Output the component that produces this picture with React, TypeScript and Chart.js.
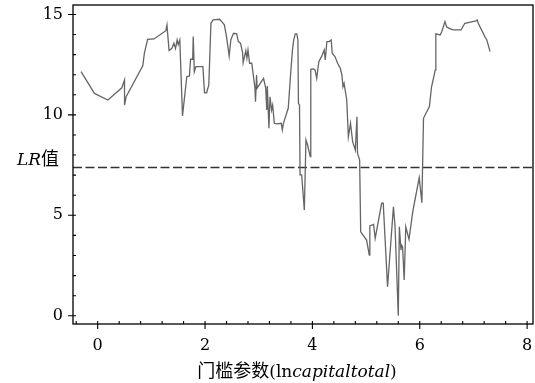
import React, { useEffect, useRef } from "react";
import { Chart, registerables } from "chart.js";

Chart.register(...registerables);

const lrX = [
  -0.31, -0.06, 0.19, 0.45, 0.5, 0.5, 0.53, 0.84, 0.87, 0.93, 1.05, 1.27, 1.29, 1.33, 1.38, 1.42, 1.45, 1.48, 1.5, 1.53,
  1.58, 1.66, 1.71, 1.73, 1.77, 1.78, 1.8, 1.83, 1.96, 1.99, 2.03, 2.07, 2.11, 2.15, 2.27, 2.31, 2.36, 2.4, 2.45, 2.48,
  2.53, 2.59, 2.62, 2.66, 2.7, 2.71, 2.76, 2.78, 2.8, 2.83, 2.87, 2.93, 2.94, 2.96, 2.97, 3.09, 3.13, 3.15, 3.16, 3.19,
  3.21, 3.24, 3.26, 3.29, 3.34, 3.42, 3.44, 3.46, 3.52, 3.55, 3.6, 3.63, 3.65, 3.68, 3.71, 3.73, 3.74, 3.76, 3.77, 3.8,
  3.85, 3.88, 3.91, 3.96, 3.97, 4.02, 4.05, 4.08, 4.12, 4.17, 4.22, 4.24, 4.27, 4.31, 4.35, 4.37, 4.42, 4.47, 4.52, 4.55,
  4.57, 4.59, 4.61, 4.64, 4.67, 4.71, 4.75, 4.8, 4.83, 4.84, 4.88, 4.9, 5.01, 5.06, 5.07, 5.14, 5.17, 5.29, 5.32, 5.4,
  5.51, 5.54, 5.6, 5.62, 5.65, 5.66, 5.68, 5.71, 5.74, 5.8, 5.87, 5.99, 6.04, 6.07, 6.1, 6.18, 6.22, 6.29, 6.3, 6.38,
  6.41, 6.47, 6.5, 6.55, 6.62, 6.77, 6.84, 7.05, 7.07, 7.09, 7.22, 7.25, 7.31,
];
const lrY = [
  12.15, 11.07, 10.74, 11.35, 11.74, 10.49, 10.9, 12.44, 13.07, 13.76, 13.78, 14.19, 14.48, 13.2, 13.3, 13.57, 13.3, 13.73, 13.5, 13.73,
  9.95, 11.9, 11.94, 12.77, 12.77, 13.9, 12.15, 12.4, 12.4, 11.1, 11.1, 11.49, 14.56, 14.73, 14.76, 14.64, 14.48, 13.9, 12.93, 13.73,
  14.06, 14.03, 13.65, 13.57, 13.1, 12.6, 13.2, 12.82, 13.23, 12.57, 12.57, 11.33, 10.66, 11.99, 11.33, 11.82, 11.33, 10.24, 11.44, 9.33,
  10.9, 10.24, 10.49, 9.58, 9.55, 9.58, 9.25, 9.58, 10.08, 10.33, 12.24, 13.27, 13.7, 14.03, 14.03, 13.73, 10.58, 10.49, 7.01, 7.01,
  5.26, 8.75, 8.5, 7.92, 12.27, 12.29, 12.24, 11.82, 12.65, 12.9, 13.23, 12.73, 13.65, 13.65, 13.73, 13.07, 12.9, 12.57, 12.32, 11.99,
  11.4, 11.57, 11.24, 10.74, 8.91, 9.58, 8.67, 8.25, 9.91, 8.09, 7.75, 4.18, 3.77, 3.02, 4.47, 4.55, 3.85, 5.6, 5.6, 1.44,
  5.43, 4.43, 0.0, 4.43, 3.27, 3.52, 3.44, 1.78, 4.43, 3.8, 5.18, 6.87, 5.63, 9.83, 9.99, 10.41, 11.4, 12.24, 14.03, 13.98,
  14.14, 14.64, 14.39, 14.31, 14.23, 14.23, 14.56, 14.68, 14.73, 14.56, 13.86, 13.73, 13.15,
];
const thresholdLR = 7.38;
const xTickValues = [0, 2, 4, 6, 8];
const yTickValues = [0, 5, 10, 15];
const xMinorStep = 0.4;
const yMinorStep = 1;
const xRange = [-0.46, 8.11];
const yRange = [-0.41, 15.47];

const SERIF = "'DejaVu Serif', 'Liberation Serif', serif";
const CJK = "'Noto Sans CJK SC', sans-serif";

const framePlugin = {
  id: "frameTicks",
  afterDraw(chart: any) {
    const ctx = chart.ctx;
    const { left, right, top, bottom } = chart.chartArea;
    const xs = chart.scales.x;
    const ys = chart.scales.y;
    ctx.save();
    ctx.strokeStyle = "#000";
    ctx.lineWidth = 1.3;
    ctx.strokeRect(left, top, right - left, bottom - top);
    ctx.lineWidth = 1.1;
    ctx.beginPath();
    for (let v = -0.4; v <= 8.05; v += xMinorStep) {
      const r = Math.round(v * 10) / 10;
      const px = xs.getPixelForValue(r);
      if (px < left || px > right) continue;
      const major = xTickValues.includes(r);
      ctx.moveTo(px, bottom - 3);
      ctx.lineTo(px, major ? bottom + 5 : bottom);
    }
    for (let v = 0; v <= 15; v += yMinorStep) {
      const py = ys.getPixelForValue(v);
      const major = yTickValues.includes(v);
      ctx.moveTo(major ? left - 5 : left, py);
      ctx.lineTo(left + 3, py);
    }
    ctx.stroke();

    ctx.fillStyle = "#000";
    ctx.textBaseline = "alphabetic";
    const xParts = [
      { t: "门槛参数", f: `18px ${CJK}` },
      { t: "(ln", f: `17px ${SERIF}` },
      { t: "capitaltotal", f: `italic 17px ${SERIF}` },
      { t: ")", f: `17px ${SERIF}` },
    ];
    let total = 0;
    for (const p of xParts) {
      ctx.font = p.f;
      total += ctx.measureText(p.t).width;
    }
    let cx = 297 - total / 2;
    for (const p of xParts) {
      ctx.font = p.f;
      ctx.fillText(p.t, cx, 377);
      cx += ctx.measureText(p.t).width;
    }
    const yParts = [
      { t: "LR", f: `italic 17px ${SERIF}` },
      { t: "值", f: `18px ${CJK}` },
    ];
    let yx = 17;
    for (const p of yParts) {
      ctx.font = p.f;
      ctx.fillText(p.t, yx, 165);
      yx += ctx.measureText(p.t).width;
    }
    ctx.restore();
  },
};

const zeroPad = (s: any) => {
  s.paddingLeft = 0;
  s.paddingRight = 0;
  s.paddingTop = 0;
  s.paddingBottom = 0;
};

export default function App() {
  const ref = useRef<HTMLCanvasElement | null>(null);
  useEffect(() => {
    if (!ref.current) return;
    const points = lrX.map((x, i) => ({ x, y: lrY[i] }));
    const chart = new Chart(ref.current, {
      type: "scatter",
      data: {
        datasets: [
          {
            data: points,
            showLine: true,
            borderColor: "#656565",
            borderWidth: 1.3,
            pointRadius: 0,
            tension: 0,
          },
          {
            data: [
              { x: xRange[0], y: thresholdLR },
              { x: xRange[1], y: thresholdLR },
            ],
            showLine: true,
            borderColor: "#333",
            borderWidth: 1.4,
            borderDash: [9, 3.5],
            pointRadius: 0,
          },
        ],
      },
      options: {
        responsive: false,
        animation: false,
        events: [],
        layout: { padding: { top: 5, right: 2, left: 0, bottom: 0 } },
        plugins: { legend: { display: false }, tooltip: { enabled: false } },
        scales: {
          x: {
            type: "linear",
            min: xRange[0],
            max: xRange[1],
            grid: { display: false, drawTicks: false },
            border: { display: false },
            afterBuildTicks: (s: any) => {
              s.ticks = xTickValues.map((v) => ({ value: v }));
            },
            afterFit: (s: any) => {
              s.height = 59;
              zeroPad(s);
            },
            ticks: {
              padding: 12,
              color: "#000",
              font: { family: SERIF, size: 16 },
              maxRotation: 0,
              callback: (v: any) => String(v),
            },
          },
          y: {
            type: "linear",
            min: yRange[0],
            max: yRange[1],
            grid: { display: false, drawTicks: false },
            border: { display: false },
            afterBuildTicks: (s: any) => {
              s.ticks = yTickValues.map((v) => ({ value: v }));
            },
            afterFit: (s: any) => {
              s.width = 73;
              zeroPad(s);
            },
            ticks: {
              padding: 10,
              color: "#000",
              font: { family: SERIF, size: 16 },
              callback: (v: any) => String(v),
            },
          },
        },
      },
      plugins: [framePlugin],
    });
    return () => chart.destroy();
  }, []);
  return (
    <div style={{ position: "fixed", left: 0, top: 0, width: 535, height: 383, background: "#fff" }}>
      <canvas ref={ref} width={535} height={383} style={{ width: 535, height: 383, display: "block" }} />
    </div>
  );
}
